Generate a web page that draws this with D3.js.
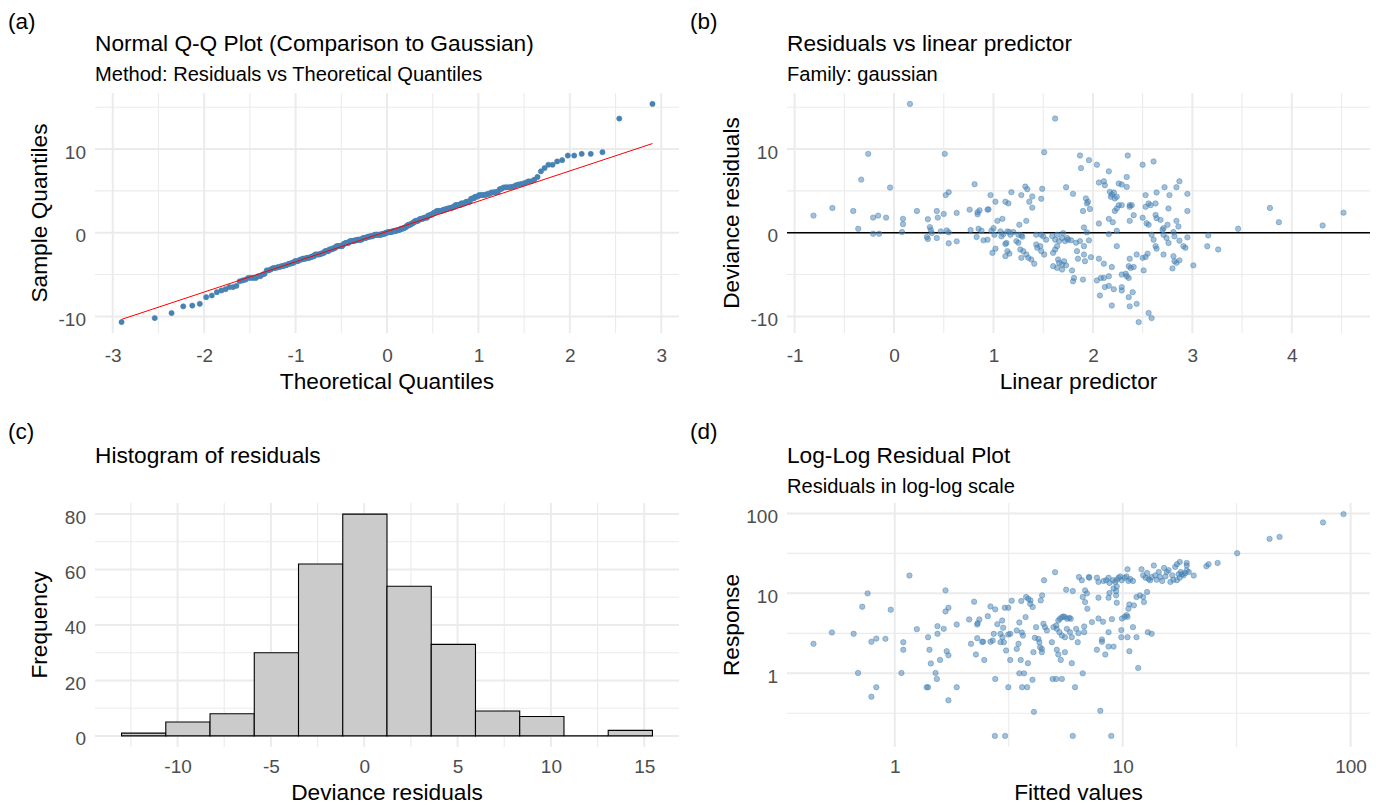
<!DOCTYPE html>
<html>
<head>
<meta charset="utf-8">
<script src="https://cdn.jsdelivr.net/npm/d3@7"></script>
<style>
  body { margin: 0; background: #ffffff; }
  svg { display: block; font-family: "Liberation Sans", Arial, sans-serif; }
</style>
</head>
<body>
<svg id="fig" width="1376" height="805"></svg>
<script>
// ---------------------------------------------------------------
// Model diagnostics: Q-Q plot, residuals vs linear predictor,
// histogram of residuals and a log-log response vs fitted plot.
// ---------------------------------------------------------------

// Residuals vs linear predictor: [linear predictor, deviance residual]
const residualPoints = [
  [0.16,15.40],[-0.26,9.43],[0.51,9.43],[-0.33,6.35],[-0.04,5.40],[0.81,5.80],[0.52,4.50],[0.55,4.85],[0.97,4.50],
  [-0.81,2.05],[-0.62,2.96],[-0.41,2.60],[-0.36,0.47],[-0.21,1.81],[-0.16,2.05],[-0.08,1.81],[-0.21,-0.12],[-0.15,-0.12],
  [0.08,0.08],[0.09,1.66],[0.09,1.03],[0.23,2.60],[0.34,1.62],[0.36,0.67],[0.37,0.32],[0.33,-0.51],[0.34,-0.75],
  [0.38,-0.04],[0.43,2.60],[0.44,1.81],[0.43,-0.63],[0.47,0.16],[0.50,2.25],[0.53,0.28],[0.55,0.04],[0.55,-1.26],
  [0.63,2.37],[0.63,-1.03],[0.76,2.76],[0.77,0.32],[0.83,-0.51],[0.84,2.20],[0.84,2.45],[0.86,2.68],[0.85,0.47],
  [0.88,0.24],[0.90,-0.91],[0.94,2.76],[0.99,-2.40],
  [1.62,13.65],[1.51,9.63],[1.87,9.23],[1.96,8.68],[1.88,7.73],[1.73,5.44],[1.80,4.65],[1.18,4.85],[1.28,4.50],
  [1.32,5.52],[1.34,5.21],[1.39,4.34],[1.36,3.71],[1.39,3.00],[1.49,5.25],[1.48,4.06],[1.02,3.71],[1.12,3.71],
  [1.15,3.51],[0.95,2.80],[1.04,1.42],[1.09,1.66],[1.26,0.95],[1.33,1.42],[1.93,4.10],[1.95,3.70],[1.94,3.50],
  [1.90,2.60],[1.97,2.84],[1.91,0.63],[1.94,0.04],[1.96,-0.91],[1.98,-2.92],
  [0.94,-0.83],[0.98,0.24],[1.00,0.55],[1.01,-0.24],[1.07,0.16],[1.08,-0.43],[1.10,-0.16],[1.14,0.16],[1.16,0.08],
  [1.17,-0.24],[1.20,0.08],[1.25,-0.24],[1.28,-0.32],[1.29,-0.47],[1.43,-0.24],[1.48,-0.24],[1.50,-0.43],[1.53,-0.83],
  [1.59,-0.40],[1.62,-0.83],[1.64,-0.24],[1.66,-1.00],[1.69,-0.63],[1.70,-0.04],[1.72,-1.00],[1.74,-0.63],[1.75,-0.83],
  [1.78,-0.90],[1.83,-1.20],[1.87,-1.00],[1.91,-1.60],
  [1.02,-1.90],[1.12,-1.34],[1.13,-1.22],[1.14,-2.20],[1.12,-2.80],[1.16,-2.50],[1.23,-1.00],[1.25,-1.20],[1.27,-2.00],
  [1.30,-2.20],[1.28,-3.00],[1.33,-2.60],[1.35,-3.00],[1.38,-3.20],[1.41,-3.70],[1.43,-1.40],[1.44,-1.80],[1.47,-1.60],
  [1.48,-2.20],[1.51,-2.60],[1.60,-2.40],[1.62,-2.00],[1.64,-1.60],[1.65,-3.20],[1.66,-3.60],[1.69,-3.80],[1.71,-3.40],
  [1.73,-3.90],[1.60,-4.00],[1.64,-4.20],[1.69,-4.40],[1.79,-4.50],[1.81,-5.40],[1.80,-5.80],[1.90,-5.60],[1.84,-2.20],
  [1.85,-3.10],[1.91,-2.60],[1.92,-3.40],
  [2.35,9.23],[2.04,8.13],[2.50,8.13],[2.61,8.52],[2.16,7.34],[2.34,6.67],[2.06,6.00],[2.11,6.15],[2.12,5.68],
  [2.26,5.88],[2.29,5.76],[2.34,5.48],[2.17,4.89],[2.19,4.58],[2.21,4.81],[2.24,4.30],[2.22,4.10],[2.18,4.30],
  [2.53,4.50],[2.64,4.81],[2.72,5.44],[2.77,4.50],[2.84,5.44],[2.87,6.15],[2.95,4.65],
  [2.26,3.30],[2.29,3.30],[2.37,3.30],[2.39,3.30],[2.37,3.10],[2.22,2.60],[2.24,2.90],[2.53,3.10],[2.56,3.50],
  [2.58,3.30],[2.63,3.50],[2.76,2.90],[2.95,2.60],[2.41,2.10],[2.37,1.42],[2.50,1.80],[2.16,1.66],[2.20,1.26],
  [2.06,1.10],[2.24,0.24],[2.16,-0.16],[2.54,1.14],[2.56,0.95],[2.63,2.13],[2.64,1.74],[2.68,1.54],[2.84,1.42],
  [2.86,0.75],[2.75,0.95],[2.71,0.55],[2.70,0.36],[2.59,-0.24],[2.61,-0.83],[2.63,-1.60],[2.64,-1.90],[2.71,-0.24],
  [2.74,-0.63],[2.76,-1.22],[2.81,0.08],[2.82,-0.43],[2.87,-0.95],[2.91,-1.60],[2.93,-1.80],[2.95,-0.55],[2.71,-2.60],
  [2.81,-2.80],[2.82,-3.40],[2.84,-3.60],[2.87,-3.30],[2.80,-4.26],
  [2.24,-1.60],[2.06,-3.10],[2.11,-3.70],[2.19,-4.10],[2.37,-3.10],[2.44,-2.60],[2.50,-3.00],[2.53,-2.90],[2.55,-2.50],
  [2.36,-4.00],[2.38,-4.20],[2.41,-4.10],[2.29,-5.00],[2.33,-4.90],[2.34,-5.20],[2.36,-5.40],[2.04,-5.70],[2.08,-5.40],
  [2.11,-5.40],[2.16,-5.20],[2.51,-4.50],[2.12,-6.50],[2.16,-6.35],[2.21,-6.75],[2.29,-6.50],[2.29,-6.90],[2.07,-7.50],
  [2.40,-7.10],[2.36,-7.70],[2.44,-8.50],[2.37,-8.80],[2.19,-8.70],[2.46,-10.68],[2.56,-9.60],[2.59,-10.20],
  [3.16,-0.32],[3.15,-1.62],[3.26,-2.00],[3.01,-3.90],[3.46,0.47],[3.78,2.96],[3.87,1.26],[4.31,0.87],[4.52,2.40]
];

// Log-log plot: [fitted value, response]
const responsePoints = [
  [0.44,2.34],[0.53,3.24],[0.66,3.12],[0.76,10.0],[0.72,6.80],[0.96,6.24],[0.69,1.01],[0.79,2.48],[0.83,2.72],
  [0.91,2.70],[0.83,0.67],[0.79,0.51],[1.16,16.7],[1.09,2.45],[1.09,1.97],[1.07,1.01],[1.25,3.57],[1.40,2.83],
  [1.42,1.97],[1.44,1.33],[1.38,0.67],[1.40,0.67],[1.51,1.01],[1.53,0.85],[1.54,3.89],[1.54,3.12],[1.64,3.60],
  [1.67,10.9],[1.67,5.94],[1.72,6.60],[1.58,1.47],[1.69,1.89],[1.72,1.68],[1.72,0.46],[1.87,4.08],[1.87,0.67],
  [2.12,4.72],[2.23,7.87],[2.31,4.24],[2.35,4.72],[2.30,4.08],[2.16,2.34],[2.30,2.75],[2.27,1.72],[2.47,1.47],
  [2.42,2.48],[2.44,2.48],[2.56,5.19],[2.63,6.87],[2.76,6.31],[2.63,2.48],[2.69,2.57],[2.72,3.12],[2.82,4.12],
  [2.76,0.85],[2.75,0.165],
  [5.05,18.4],[4.52,14.6],[6.43,16.0],[6.62,14.6],[7.11,16.0],[5.65,11.1],[6.04,10.7],[6.84,10.9],[6.97,10.0],
  [6.68,9.00],[6.84,7.78],[7.00,6.43],[3.77,9.00],[3.85,8.57],[3.94,8.17],[4.03,6.75],[3.93,7.41],[4.43,9.44],
  [4.37,8.17],[3.59,8.02],[3.26,8.09],[3.04,6.61],[3.15,6.61],[3.75,5.05],[3.52,4.33],[2.96,4.58],[2.99,3.72],
  [3.43,3.44],[3.61,3.24],[3.65,2.97],[3.21,3.12],[3.15,3.06],[2.91,3.12],[2.97,2.83],[3.01,2.45],[2.91,2.45],
  [3.08,1.93],[3.43,2.02],[3.49,2.34],[3.21,1.47],[3.57,1.47],[3.84,1.34],[3.52,1.00],[3.69,1.00],[3.15,0.67],
  [3.62,0.67],[3.81,0.67],[4.02,0.83],[4.08,0.33],[3.05,0.165],
  [4.17,3.78],[4.49,4.16],[4.56,3.78],[4.65,3.44],[4.12,2.78],[4.27,2.70],[4.31,2.45],[4.34,2.12],[4.42,2.02],
  [4.06,1.84],[4.42,1.84],[4.89,2.45],[4.97,3.78],[5.11,3.96],[5.22,4.58],[5.31,4.81],[5.41,5.05],[5.50,5.15],
  [5.58,5.05],[5.71,4.81],[5.83,4.95],[5.92,4.81],[5.14,3.60],[5.28,3.27],[5.41,2.97],[5.58,2.83],[5.69,3.60],
  [5.87,3.27],[5.98,2.83],[6.25,3.60],[6.40,3.18],[6.35,2.45],[6.78,3.85],[6.78,3.27],[5.14,1.97],[5.22,1.72],
  [5.35,1.47],[5.58,1.84],[5.98,1.34],[4.93,0.85],[5.11,0.85],[5.41,0.85],[6.18,0.67],[6.68,1.00],[6.04,0.165],
  [7.13,15.7],[7.71,15.7],[7.83,13.9],[8.24,14.3],[8.47,14.6],[8.67,15.7],[8.75,13.5],[9.06,14.6],[9.27,13.9],
  [9.42,14.8],[9.60,15.7],[9.75,16.3],[9.91,14.6],[10.2,15.7],[10.4,16.3],[10.5,20.0],[10.6,14.3],[10.8,15.1],
  [11.1,14.3],[12.1,20.0],[12.3,16.8],[12.6,15.7],[12.8,18.0],[13.0,15.1],[13.2,14.6],[13.4,16.0],[13.7,22.3],
  [13.9,16.8],[14.1,14.8],[14.4,18.5],[14.6,16.0],[14.9,14.3],[15.2,20.8],[15.4,16.3],[15.6,18.5],[15.9,19.5],
  [16.2,13.9],[16.5,16.8],[16.7,14.8],[17.0,21.4],[17.3,23.1],[17.6,17.3],[17.8,24.7],[18.0,18.5],
  [9.12,11.5],[9.42,12.2],[9.36,10.7],[7.83,8.83],[8.67,8.83],[8.75,10.1],[9.36,9.44],[9.42,7.64],
  [7.33,4.37],[7.83,4.85],[8.20,4.41],[8.97,4.76],[8.67,3.27],[8.11,2.65],[8.11,2.48],[7.71,1.97],[8.39,1.72],
  [8.67,2.16],[9.12,2.16],[7.98,0.34],[8.91,0.165],[9.86,3.47],[9.86,2.83],[10.5,2.83],[11.5,2.83],[10.7,1.89],
  [11.7,1.17],[11.1,3.78],[9.93,4.85],[10.2,5.09],[10.4,5.35],[10.5,5.09],[10.6,6.43],[10.7,7.28],[11.2,7.08],
  [11.5,9.00],[11.9,9.44],[12.3,9.00],[12.4,7.78],[12.8,10.4],[12.9,3.27],[13.4,3.12],
  [19.1,24.0],[19.1,22.3],[18.2,17.3],[18.8,17.9],[19.1,19.4],[19.5,18.5],[17.3,14.6],[17.8,15.7],[18.5,16.8],
  [20.5,16.7],[23.3,21.8],[23.8,23.1],[26.1,24.0],[31.8,31.8],[44.1,48.0],[48.8,50.8],[75.7,77.1],[93.1,98.0]
];

// Histogram of deviance residuals
const histBreaks = [-13.00,-10.63,-8.26,-5.89,-3.52,-1.15,1.22,3.59,5.96,8.33,10.70,13.07,15.44];
const histCounts = [1,5,8,30,62,80,54,33,9,7,0,2];

// Reference line of the Q-Q plot (through the quartiles)
const qqLineIntercept = 0.15;
const qqLineSlope = 3.62;

// Axis breaks
const qqTicks = [-3,-2,-1,0,1,2,3];
const qqMinor = [-2.5,-1.5,-0.5,0.5,1.5,2.5];
const residTicks = [-10,0,10];
const residMinor = [-5,5,15];
const lpTicks = [-1,0,1,2,3,4];
const lpMinor = [-0.5,0.5,1.5,2.5,3.5,4.5];
const histTicks = [-10,-5,0,5,10,15];
const histMinor = [-12.5,-7.5,-2.5,2.5,7.5,12.5];
const freqTicks = [0,20,40,60,80];
const freqMinor = [10,30,50,70];
const logTicks = [1,10,100];
const logMinorX = [Math.sqrt(10), Math.sqrt(1000)];
const logMinorY = [Math.sqrt(0.1), Math.sqrt(10), Math.sqrt(1000)];

// ---------------------------------------------------------------
const svg = d3.select("#fig");
const POINT = "#4682B4";
const GRID = "#ebebeb";
const TICK_COL = "#4d4d4d";
const FS = { tag: 22.5, title: 22.7, subtitle: 20.1, axisTitle: 22.7, tick: 19 };

const boxes = {
  a: { x0: 95,  x1: 679,  y0: 93,  y1: 333 },
  b: { x0: 787, x1: 1370, y0: 93,  y1: 333 },
  c: { x0: 95,  x1: 679,  y0: 503, y1: 747 },
  d: { x0: 787, x1: 1370, y0: 503, y1: 747 }
};

// ggplot-style 5% padding of a continuous range
function pad(ext, m = 0.05) {
  const w = ext[1] - ext[0];
  return [ext[0] - w * m, ext[1] + w * m];
}
function padLog(ext) {
  return pad(ext.map(Math.log10)).map(v => Math.pow(10, v));
}

// inverse of the standard normal CDF (Acklam's rational approximation)
function qnorm(p) {
  const a = [-3.969683028665376e+01, 2.209460984245205e+02, -2.759285104469687e+02,
             1.383577518672690e+02, -3.066479806614716e+01, 2.506628277459239e+00];
  const b = [-5.447609879822406e+01, 1.615858368580409e+02, -1.556989798598866e+02,
             6.680131188771972e+01, -1.328068155288572e+01];
  const c = [-7.784894002430293e-03, -3.223964580411365e-01, -2.400758277161838e+00,
             -2.549732539343734e+00, 4.374664141464968e+00, 2.938163982698783e+00];
  const d = [7.784695709041462e-03, 3.224671290700398e-01, 2.445134137142996e+00,
             3.754408661907416e+00];
  const pl = 0.02425, ph = 1 - pl;
  if (p < pl) {
    const q = Math.sqrt(-2 * Math.log(p));
    return (((((c[0]*q+c[1])*q+c[2])*q+c[3])*q+c[4])*q+c[5]) / ((((d[0]*q+d[1])*q+d[2])*q+d[3])*q+1);
  }
  if (p > ph) {
    const q = Math.sqrt(-2 * Math.log(1 - p));
    return -(((((c[0]*q+c[1])*q+c[2])*q+c[3])*q+c[4])*q+c[5]) / ((((d[0]*q+d[1])*q+d[2])*q+d[3])*q+1);
  }
  const q = p - 0.5, r = q * q;
  return (((((a[0]*r+a[1])*r+a[2])*r+a[3])*r+a[4])*r+a[5])*q / (((((b[0]*r+b[1])*r+b[2])*r+b[3])*r+b[4])*r+1);
}

function grid(box, x, y, xMaj, xMin, yMaj, yMin) {
  const g = svg.append("g");
  const v = (vals, w) => g.append("g").selectAll("line").data(vals).join("line")
    .attr("x1", d => x(d)).attr("x2", d => x(d))
    .attr("y1", box.y0).attr("y2", box.y1)
    .attr("stroke", GRID).attr("stroke-width", w);
  const h = (vals, w) => g.append("g").selectAll("line").data(vals).join("line")
    .attr("x1", box.x0).attr("x2", box.x1)
    .attr("y1", d => y(d)).attr("y2", d => y(d))
    .attr("stroke", GRID).attr("stroke-width", w);
  v(xMin, 1.1); h(yMin, 1.1);
  v(xMaj, 2); h(yMaj, 2);
}

function axes(box, x, y, xt, yt, fmt, xOff) {
  const ax = svg.append("g").attr("transform", `translate(0,${box.y1})`)
    .call(d3.axisBottom(x).tickValues(xt).tickSize(0).tickFormat(fmt));
  ax.select(".domain").remove();
  ax.selectAll("text").attr("y", xOff).attr("dy", 0)
    .attr("font-size", FS.tick).attr("fill", TICK_COL).attr("font-family", null);
  const ay = svg.append("g").attr("transform", `translate(${box.x0},0)`)
    .call(d3.axisLeft(y).tickValues(yt).tickSize(0).tickPadding(9).tickFormat(fmt));
  ay.select(".domain").remove();
  ay.selectAll("text").attr("dy", "0.47em")
    .attr("font-size", FS.tick).attr("fill", TICK_COL).attr("font-family", null);
}

function labels(box, tagX, tag, title, subtitle, xTitle, yTitle, pos) {
  svg.append("text").attr("x", tagX).attr("y", pos.tag)
    .attr("font-size", FS.tag).text(tag);
  svg.append("text").attr("x", box.x0).attr("y", pos.title)
    .attr("font-size", FS.title).text(title);
  if (subtitle) svg.append("text").attr("x", box.x0).attr("y", pos.subtitle)
    .attr("font-size", FS.subtitle).text(subtitle);
  svg.append("text").attr("x", (box.x0 + box.x1) / 2).attr("y", pos.xTitle)
    .attr("text-anchor", "middle").attr("font-size", FS.axisTitle).text(xTitle);
  const yx = box.x0 - 48, yy = (box.y0 + box.y1) / 2;
  svg.append("text").attr("transform", `translate(${yx},${yy}) rotate(-90)`)
    .attr("text-anchor", "middle").attr("font-size", FS.axisTitle).text(yTitle);
}

const fmt = d => String(d);

// ---------------- (a) Normal Q-Q plot ----------------
{
  const box = boxes.a;
  const sample = residualPoints.map(d => d[1]).sort((p, q) => p - q);
  const n = sample.length;
  const qq = sample.map((s, i) => [qnorm((i + 0.5) / n), s]);
  const x = d3.scaleLinear().domain(pad(d3.extent(qq, d => d[0]))).range([box.x0, box.x1]);
  const y = d3.scaleLinear().domain(pad(d3.extent(qq, d => d[1]))).range([box.y1, box.y0]);
  grid(box, x, y, qqTicks, qqMinor, residTicks, residMinor);
  const tx = d3.extent(qq, d => d[0]);
  svg.append("g").selectAll("circle").data(qq).join("circle")
    .attr("cx", d => x(d[0])).attr("cy", d => y(d[1])).attr("r", 2.6)
    .attr("fill", POINT).attr("stroke", POINT).attr("stroke-width", 0.6);
  svg.append("line")
    .attr("x1", x(tx[0])).attr("y1", y(qqLineIntercept + qqLineSlope * tx[0]))
    .attr("x2", x(tx[1])).attr("y2", y(qqLineIntercept + qqLineSlope * tx[1]))
    .attr("stroke", "#ff0000").attr("stroke-width", 1);
  axes(box, x, y, qqTicks, residTicks, fmt, 28.5);
  labels(box, 8, "(a)", "Normal Q-Q Plot (Comparison to Gaussian)",
    "Method: Residuals vs Theoretical Quantiles", "Theoretical Quantiles", "Sample Quantiles",
    { tag: 28.6, title: 50.5, subtitle: 80.5, xTitle: 388.5 });
}

// ---------------- (b) Residuals vs linear predictor ----------------
{
  const box = boxes.b;
  const x = d3.scaleLinear().domain(pad(d3.extent(residualPoints, d => d[0]))).range([box.x0, box.x1]);
  const y = d3.scaleLinear().domain(pad(d3.extent(residualPoints, d => d[1]))).range([box.y1, box.y0]);
  grid(box, x, y, lpTicks, lpMinor, residTicks, residMinor);
  svg.append("line").attr("x1", box.x0).attr("x2", box.x1)
    .attr("y1", y(0)).attr("y2", y(0)).attr("stroke", "#000").attr("stroke-width", 1.3);
  svg.append("g").selectAll("circle").data(residualPoints).join("circle")
    .attr("cx", d => x(d[0])).attr("cy", d => y(d[1])).attr("r", 2.7)
    .attr("fill", POINT).attr("fill-opacity", 0.5)
    .attr("stroke", POINT).attr("stroke-opacity", 0.5).attr("stroke-width", 0.9);
  axes(box, x, y, lpTicks, residTicks, fmt, 28.5);
  labels(box, 690, "(b)", "Residuals vs linear predictor", "Family: gaussian",
    "Linear predictor", "Deviance residuals",
    { tag: 28.6, title: 50.5, subtitle: 80.5, xTitle: 388.5 });
}

// ---------------- (c) Histogram of residuals ----------------
{
  const box = boxes.c;
  const bins = histCounts.map((c, i) => ({ x0: histBreaks[i], x1: histBreaks[i + 1], n: c }));
  const x = d3.scaleLinear().domain(pad(d3.extent(histBreaks))).range([box.x0, box.x1]);
  const y = d3.scaleLinear().domain(pad([0, d3.max(histCounts)])).range([box.y1, box.y0]);
  grid(box, x, y, histTicks, histMinor, freqTicks, freqMinor);
  svg.append("g").selectAll("path").data(bins).join("path")
    .attr("d", d => `M${x(d.x0)},${y(0)}V${y(d.n)}H${x(d.x1)}V${y(0)}Z`)
    .attr("fill", "#cbcbcb").attr("stroke", "#000").attr("stroke-width", 1.1);
  axes(box, x, y, histTicks, freqTicks, fmt, 26);
  labels(box, 8, "(c)", "Histogram of residuals", null, "Deviance residuals", "Frequency",
    { tag: 438.6, title: 462.7, xTitle: 800 });
}

// ---------------- (d) Log-log residual plot ----------------
{
  const box = boxes.d;
  const x = d3.scaleLog().domain(padLog(d3.extent(responsePoints, d => d[0]))).range([box.x0, box.x1]);
  const y = d3.scaleLog().domain(padLog(d3.extent(responsePoints, d => d[1]))).range([box.y1, box.y0]);
  grid(box, x, y, logTicks, logMinorX, logTicks, logMinorY);
  svg.append("g").selectAll("circle").data(responsePoints).join("circle")
    .attr("cx", d => x(d[0])).attr("cy", d => y(d[1])).attr("r", 2.7)
    .attr("fill", POINT).attr("fill-opacity", 0.5)
    .attr("stroke", POINT).attr("stroke-opacity", 0.5).attr("stroke-width", 0.9);
  axes(box, x, y, logTicks, logTicks, fmt, 26);
  labels(box, 690, "(d)", "Log-Log Residual Plot", "Residuals in log-log scale",
    "Fitted values", "Response",
    { tag: 438.6, title: 462.7, subtitle: 493, xTitle: 800 });
}
</script>
</body>
</html>
